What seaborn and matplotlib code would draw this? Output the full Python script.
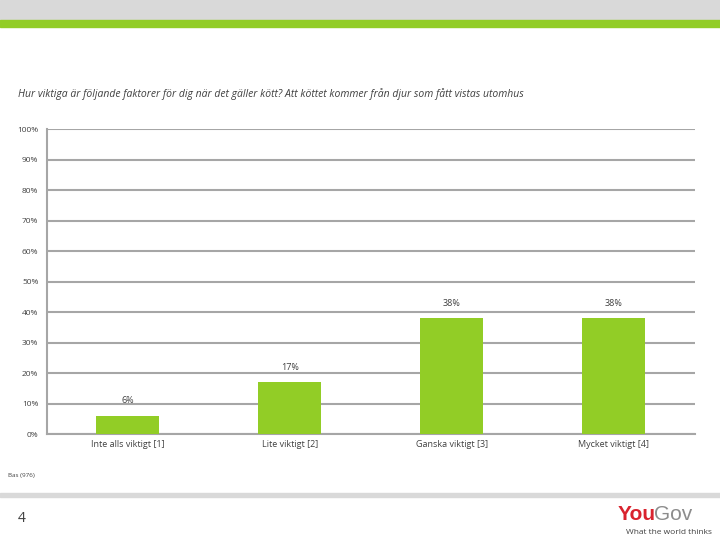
import matplotlib
matplotlib.use("Agg")
import matplotlib.pyplot as plt
import seaborn as sns
import pandas as pd
from matplotlib.patches import Rectangle

categories = ["Inte alls viktigt [1]", "Lite viktigt [2]", "Ganska viktigt [3]", "Mycket viktigt [4]"]
values = [6, 17, 38, 38]
yticks = [0, 10, 20, 30, 40, 50, 60, 70, 80, 90, 100]

sns.set_style("white")
plt.rcParams['font.family'] = ['Open Sans', 'DejaVu Sans']
fig = plt.figure(figsize=(7.2, 5.4), dpi=100)
ax = fig.add_axes([0.065, 0.196, 0.9, 0.565])
df = pd.DataFrame({"cat": categories, "val": values})
sns.barplot(data=df, x="cat", y="val", color="#92cd26", saturation=1, width=0.39, ax=ax,
            zorder=3, linewidth=0, edgecolor="none")
ax.set_ylim(0, 100)
ax.set_yticks(yticks)
ax.set_yticklabels([f"{t}%" for t in yticks], fontsize=6, color="#404040")
ax.yaxis.grid(True, color="#a6a6a6", lw=1.5, zorder=0)
ax.set_xlabel(""); ax.set_ylabel("")
ax.tick_params(axis='x', labelsize=6.5, colors="#404040", length=3, color="#a6a6a6", pad=4)
ax.tick_params(axis='y', length=0, pad=6)
for s in ["top", "right"]:
    ax.spines[s].set_visible(False)
for s in ["left", "bottom"]:
    ax.spines[s].set_color("#a6a6a6"); ax.spines[s].set_linewidth(1.5)
ax.set_xticks([-0.5, 0.5, 1.5, 2.5, 3.5], minor=True)
ax.tick_params(axis='x', which='major', length=0)
ax.tick_params(axis='x', which='minor', length=3, color="#a6a6a6", width=1.5)
for i, v in enumerate(values):
    ax.text(i, v + 3.5, f"{v}%", ha="center", va="bottom", fontsize=6.5, color="#404040")

fig.patches.append(Rectangle((0, 1 - 20/540), 1, 20/540, transform=fig.transFigure, color="#d9d9d9"))
fig.patches.append(Rectangle((0, 1 - 27/540), 1, 7/540, transform=fig.transFigure, color="#92cd26"))
fig.patches.append(Rectangle((0, 1 - 497/540), 1, 4/540, transform=fig.transFigure, color="#d9d9d9"))
fig.text(18/720, 1 - 94/540, "Hur viktiga är följande faktorer för dig när det gäller kött? Att köttet kommer från djur som fått vistas utomhus",
         fontsize=7.5, style="italic", color="#404040", va="center")
fig.text(8/720, 1 - 475/540, "Bas (976)", fontsize=4.5, color="#404040", va="center")
fig.text(18/720, 1 - 518/540, "4", fontsize=10, color="#404040", va="center")
fig.text(618/720, 1 - 515/540, "You", fontsize=15, color="#d9232e", weight="bold", va="center", family="Liberation Sans")
fig.text(654/720, 1 - 515/540, "Gov", fontsize=15, color="#8c8c8c", va="center", family="Liberation Sans")
fig.text(626/720, 1 - 532/540, "What the world thinks", fontsize=6, color="#404040", va="center")
fig.savefig("out.png", dpi=100)
